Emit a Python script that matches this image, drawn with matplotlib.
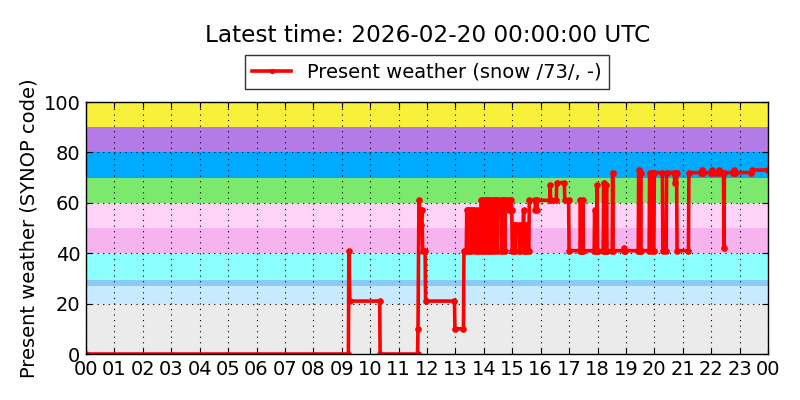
import matplotlib
matplotlib.use("Agg")
import matplotlib.pyplot as plt

# ---- data -------------------------------------------------------------
times = ["00:00", "09:14", "09:15", "09:17", "10:20", "10:21", "11:40", "11:41",
         "11:43", "11:45", "11:47", "11:49", "11:51", "11:56", "11:57", "12:58",
         "12:59", "13:17", "13:18", "13:23", "13:24", "13:27", "13:28", "13:29",
         "13:32", "13:33", "13:34", "13:40", "13:41", "13:45", "13:46", "13:48",
         "13:53", "13:54", "13:58", "13:59", "14:03", "14:04", "14:07", "14:08",
         "14:09", "14:12", "14:13", "14:15", "14:16", "14:21", "14:22", "14:23",
         "14:27", "14:28", "14:29", "14:36", "14:37", "14:39", "14:40", "14:43",
         "14:44", "14:45", "14:52", "14:53", "14:55", "14:56", "14:58", "14:59",
         "15:00", "15:02", "15:03", "15:05", "15:06", "15:07", "15:14", "15:15",
         "15:17", "15:18", "15:23", "15:24", "15:25", "15:27", "15:28", "15:30",
         "15:31", "15:35", "15:36", "15:48", "15:49", "15:52", "15:53", "16:19",
         "16:20", "16:21", "16:33", "16:34", "16:50", "16:51", "16:59", "17:00",
         "17:23", "17:24", "17:25", "17:28", "17:29", "17:30", "17:53", "17:54",
         "17:55", "17:58", "17:59", "18:00", "18:12", "18:13", "18:14", "18:18",
         "18:19", "18:20", "18:31", "18:32", "18:33", "18:55", "18:56", "18:58",
         "19:26", "19:27", "19:28", "19:30", "19:31", "19:32", "19:49", "19:50",
         "19:55", "19:56", "19:59", "20:00", "20:17", "20:18", "20:20", "20:25",
         "20:26", "20:42", "20:43", "20:45", "20:47", "20:48", "21:12", "21:13",
         "21:38", "21:40", "21:43", "22:00", "22:02", "22:05", "22:15", "22:17",
         "22:20", "22:26", "22:27", "22:28", "22:46", "22:48", "22:50", "23:25",
         "23:26", "24:00"]
values = [0, 0, 41, 21, 21, 0, 0, 10,
          61, 57, 51, 57, 41, 41, 21, 21,
          10, 10, 41, 41, 57, 57, 41, 57,
          57, 41, 57, 57, 41, 41, 57, 41,
          41, 61, 61, 41, 41, 61, 61, 41,
          61, 61, 41, 41, 61, 61, 41, 61,
          61, 41, 61, 61, 41, 41, 61, 61,
          41, 61, 61, 57, 57, 61, 61, 57,
          41, 41, 51, 51, 41, 51, 51, 41,
          41, 51, 51, 57, 41, 41, 51, 51,
          41, 41, 61, 61, 57, 57, 61, 61,
          67, 61, 61, 68, 68, 61, 61, 41,
          41, 61, 41, 41, 61, 41, 41, 57,
          41, 41, 67, 41, 41, 68, 41, 41,
          67, 41, 41, 72, 41, 41, 42, 41,
          41, 73, 41, 41, 72, 41, 41, 72,
          72, 41, 41, 72, 72, 41, 42, 41,
          72, 72, 68, 72, 72, 41, 41, 72,
          72, 73, 72, 72, 73, 72, 72, 73,
          72, 72, 42, 72, 72, 73, 72, 72,
          73, 73]

band_edges = [0, 20, 27, 29.5, 40, 50, 60, 70, 80, 90, 100]
band_colors = ["#ebebeb", "#c8eaff", "#8ccaf5", "#8cffff", "#f5b4ee",
               "#ffd2f8", "#7de86e", "#00aaff", "#b47ae6", "#f8f03a"]

hour_labels = ["00", "01", "02", "03", "04", "05", "06", "07", "08", "09", "10",
               "11", "12", "13", "14", "15", "16", "17", "18", "19", "20", "21",
               "22", "23", "00"]
yticks = [0, 20, 40, 60, 80, 100]

title = "Latest time: 2026-02-20 00:00:00 UTC"
legend_label = "Present weather (snow /73/, -)"
ylabel = "Present weather (SYNOP code)"

# ---- plot -------------------------------------------------------------
plt.rcParams["font.family"] = ["DejaVu Sans"]

def to_hours(s):
    h, m = s.split(":")
    return int(h) + int(m) / 60.0

x = [to_hours(t) for t in times]

fig = plt.figure(figsize=(8, 4), dpi=100, facecolor="white")
ax = fig.add_axes([0.1075, 0.115, 0.8525, 0.63])

for lo, hi, c in zip(band_edges[:-1], band_edges[1:], band_colors):
    ax.axhspan(lo, hi, color=c, lw=0, zorder=0)

ax.plot(x, values, color="red", lw=2.6, marker="o", markersize=4.8,
        markeredgewidth=0, label=legend_label, zorder=3)

ax.set_xlim(0, 24)
ax.set_ylim(0, 100)
ax.set_xticks(range(len(hour_labels)))
ax.set_xticklabels(hour_labels)
ax.set_yticks(yticks)
ax.tick_params(direction="in", labelsize=14, top=True, right=True, length=4,
               pad=4)
ax.grid(True, color="black", linestyle=(0, (1, 4)), lw=0.8, zorder=1)
ax.set_axisbelow(False)
for sp in ax.spines.values():
    sp.set_linewidth(1)
    sp.set_zorder(4)

ax.set_ylabel(ylabel, fontsize=14)
fig.text(0.534, 1 - 35 / 400, title, ha="center", va="center", fontsize=16.7)

leg = ax.legend(loc="lower center", bbox_to_anchor=(0.5, 1.012), fontsize=14,
                frameon=True, fancybox=False, edgecolor="black",
                borderpad=0.4, handlelength=2.0, markerscale=0.8)
leg.get_frame().set_linewidth(1)

fig.savefig("out.png", dpi=100, facecolor="white")
